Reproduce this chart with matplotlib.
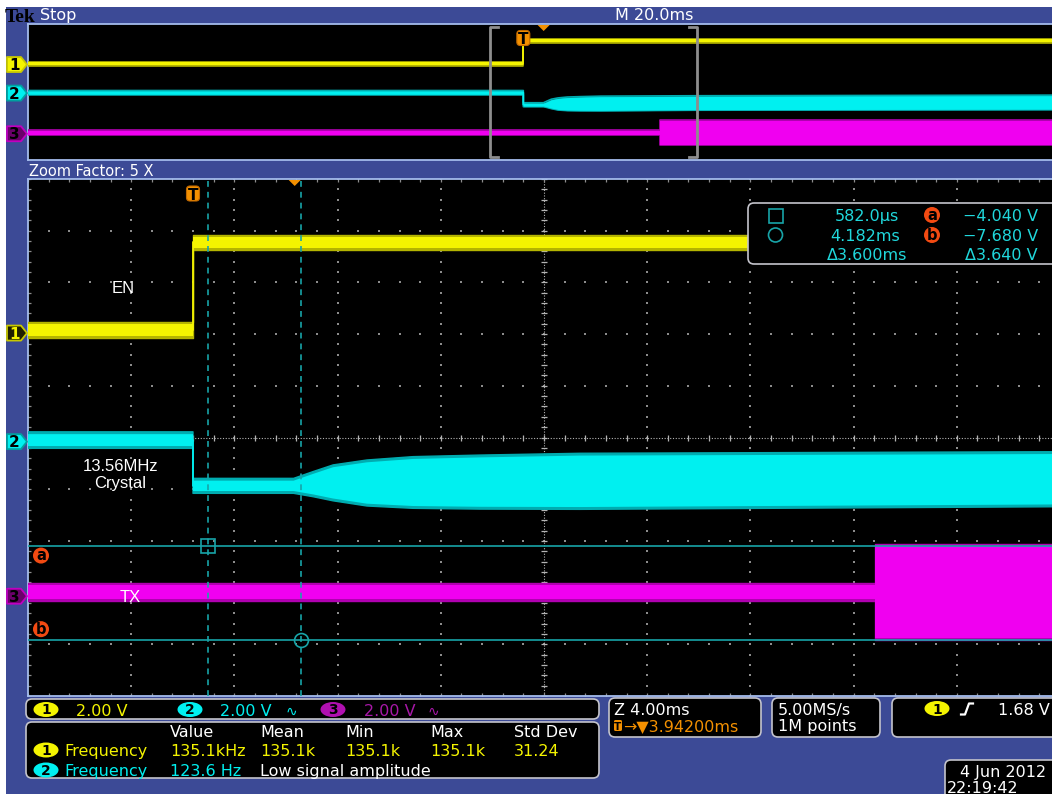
import numpy as np
import matplotlib.pyplot as plt
from matplotlib.patches import FancyBboxPatch, Polygon, Ellipse, Circle, Rectangle

W, H = 1052, 794
BLUE = '#3c4a96'
EDGE = '#a4bcec'
YEL, CYN, MAG = '#f4f400', '#00f0f0', '#f000f0'
ORG = '#f39000'
CUR = '#18a4a8'
GRID = '#8c8c8c'

plt.rcParams['font.family'] = ['DejaVu Sans']

# scope settings
volts_per_div = 2.0
ch_pos = {1: 2.02, 2: -0.08, 3: -3.07}   # channel ground markers, divisions
main_ms_div = 4.0
over_ms_div = 20.0
main_t0 = -6.395     # ms at left edge of zoom window
over_t0 = -95.99     # ms at left edge of full record
trig_pos_ms = 3.942
cur_t = [0.582, 4.182]
cur_v = [-4.040, -7.680]

# traces: time (ms), band bottom / top (V)
en_t = [-96.0, 0.0, 0.0, 104.0]
en_lo = [-0.20, -0.20, 3.22, 3.22]
en_hi = [0.44, 0.44, 3.80, 3.80]

xtal_t = [-96.0, 0.0, 0.0, 3.9, 4.65, 5.43, 6.74, 8.53, 11.1, 15.0, 33.3, 104.0]
xtal_lo = [-0.26, -0.26, -2.00, -2.00, -2.13, -2.29, -2.49, -2.58, -2.61, -2.62, -2.52, -2.45]
xtal_hi = [0.38, 0.38, -1.42, -1.42, -1.16, -0.90, -0.71, -0.58, -0.52, -0.45, -0.39, -0.30]

tx_t = [-96.0, 26.45, 26.45, 104.0]
tx_lo = [-0.19, -0.19, -1.69, -1.69]
tx_hi = [0.52, 0.52, 2.02, 2.02]

# measurement table
meas_cols = ['Value', 'Mean', 'Min', 'Max', 'Std Dev']
meas_ch1 = ['135.1kHz', '135.1k', '135.1k', '135.1k', '31.24']
meas_ch2 = ['123.6 Hz', 'Low signal amplitude']
cursor_rows = [('582.0\u00b5s', 'a', '\u22124.040 V'),
               ('4.182ms', 'b', '\u22127.680 V'),
               ('\u03943.600ms', '', '\u03943.640 V')]

fig = plt.figure(figsize=(W / 100, H / 100), dpi=100, facecolor=BLUE)


def px_axes(x0, y0, x1, y1):
    ax = fig.add_axes([x0 / W, 1 - y1 / H, (x1 - x0) / W, (y1 - y0) / H])
    ax.set_facecolor('black')
    ax.set_xticks([])
    ax.set_yticks([])
    for s in ax.spines.values():
        s.set_color(EDGE)
        s.set_linewidth(1.3)
    ax.set_ylim(-5, 5)
    return ax


over = px_axes(28, 24, 1060, 160)
over.set_xlim(over_t0, over_t0 + 10 * over_ms_div)
main = px_axes(28, 179, 1060, 696)
main.set_xlim(main_t0, main_t0 + 10 * main_ms_div)


def trace(ax, t, lo, hi, ch, color, edge, lw, inset):
    lo_d = ch_pos[ch] + np.array(lo) / volts_per_div
    hi_d = ch_pos[ch] + np.array(hi) / volts_per_div
    # noisy fringe in a darker shade, bright core inside it
    ax.fill_between(t, lo_d, hi_d, color=edge, lw=0, zorder=3)
    ax.plot(t, lo_d, color=edge, lw=lw, zorder=3)
    ax.plot(t, hi_d, color=edge, lw=lw, zorder=3)
    ax.fill_between(t, lo_d + inset, hi_d - inset, color=color, lw=0, zorder=3)
    ax.plot(t, (lo_d + hi_d) / 2, color=color, lw=1.3, zorder=3)


for ax, lw, inset in [(over, 1.2, 0.04), (main, 1.0, 0.045)]:
    trace(ax, en_t, en_lo, en_hi, 1, YEL, '#b4b400', lw, inset)
    trace(ax, xtal_t, xtal_lo, xtal_hi, 2, CYN, '#00acb0', lw, inset)
    trace(ax, tx_t, tx_lo, tx_hi, 3, MAG, '#b000b0', lw, inset)

# graticule of the zoom window
xs = main_t0 + main_ms_div / 5 * np.arange(51)
ys = -5 + 0.2 * np.arange(51)
for k in range(1, 10):
    if k == 5:
        continue
    main.plot(np.full(51, main_t0 + k * main_ms_div), ys, ls='none', marker='s',
              ms=1.5, mew=0, color=GRID, zorder=2)
    main.plot(xs, np.full(51, -5.0 + k), ls='none', marker='s',
              ms=1.5, mew=0, color=GRID, zorder=2)
xc = main_t0 + 5 * main_ms_div
main.axhline(0, color='#b4b4b4', lw=0.8, ls=(0, (1, 1.5)), zorder=2)
main.axvline(xc, color='#b4b4b4', lw=0.8, ls=(0, (1, 1.5)), zorder=2)
main.plot(xs, np.zeros(51), ls='none', marker='|', ms=5, mew=0.9, color='#b4b4b4', zorder=2)
main.plot(np.full(51, xc), ys, ls='none', marker='_', ms=5, mew=0.9, color='#b4b4b4', zorder=2)
for yy in (-5, 5):
    main.plot(xs, np.full(51, yy), ls='none', marker='|', ms=5, mew=0.9, color=GRID, zorder=2)
main.plot(np.full(51, main_t0), ys, ls='none', marker='_', ms=5, mew=0.9, color=GRID, zorder=2)

# cursors (on channel 2)
cur_d = [ch_pos[2] + v / volts_per_div for v in cur_v]
for t in cur_t:
    main.axvline(t, color=CUR, lw=1.2, ls=(0, (3.5, 3)), zorder=4)
for d in cur_d:
    main.axhline(d, color=CUR, lw=1.2, zorder=4)
main.plot(cur_t[0], cur_d[0], marker='s', ms=10, mfc='none', mec=CUR, mew=1.2, zorder=5)
main.plot(cur_t[1], cur_d[1], marker='o', ms=10, mfc='none', mec=CUR, mew=1.2, zorder=5)

# zoom bracket in the full-record view
bx0, bx1 = main_t0, main_t0 + 10 * main_ms_div
over.plot([bx0 + 1.4, bx0, bx0, bx0 + 1.4], [4.78, 4.78, -4.78, -4.78], color='#8e8e8e', lw=2, zorder=4)
over.plot([bx1 - 1.4, bx1, bx1, bx1 - 1.4], [4.78, 4.78, -4.78, -4.78], color='#8e8e8e', lw=2, zorder=4)

# overlay in pixel coordinates
ov = fig.add_axes([0, 0, 1, 1], zorder=10)
ov.set_xlim(0, W)
ov.set_ylim(H, 0)
ov.axis('off')


def to_px(ax, t, d):
    x, y = ax.transData.transform((t, d))
    return x, H - y


ov.add_patch(Rectangle((0, 0), W, 7, fc='white', ec='none'))
ov.add_patch(Rectangle((0, 0), 6, H, fc='white', ec='none'))

FS = 11.5
ov.text(5, 21.5, 'Tek', color='black', fontsize=14, fontweight='bold',
        family='Liberation Serif', va='baseline')
ov.text(40, 20, 'Stop', color='white', fontsize=FS, va='baseline')
ov.text(615, 20, 'M 20.0ms', color='white', fontsize=FS, va='baseline')
ov.text(29, 176, 'Zoom Factor: 5 X', color='white', fontsize=10.5, va='baseline')

# trigger markers
for ax, dy in [(over, 14.5), (main, 15)]:
    x, ytop = to_px(ax, 0, 5)
    ov.add_patch(FancyBboxPatch((x - 6.5, ytop + dy - 8), 13, 15,
                                boxstyle='round,pad=0,rounding_size=3.5', fc=ORG, ec='#c06800', lw=0.8))
    ov.text(x, ytop + dy + 5.5, 'T', color='black', fontsize=11, fontweight='bold',
            ha='center', va='baseline')
    xt, _ = to_px(ax, trig_pos_ms, 5)
    ov.add_patch(Polygon([(xt - 6, ytop + 1), (xt + 6, ytop + 1), (xt, ytop + 7)], fc=ORG, ec='none'))


def ch_marker(y, num, fc, ec, tc):
    pts = [(7, y - 7.5), (21, y - 7.5), (27, y), (21, y + 7.5), (7, y + 7.5)]
    ov.add_patch(Polygon(pts, closed=True, fc=fc, ec=ec, lw=1.3, joinstyle='round'))
    ov.text(14.5, y + 5.5, num, ha='center', va='baseline', color=tc, fontsize=11, fontweight='bold')


for ax in (over, main):
    _, y1 = to_px(ax, 0, ch_pos[1])
    _, y2 = to_px(ax, 0, ch_pos[2])
    _, y3 = to_px(ax, 0, ch_pos[3])
    ch_marker(y1, '1', YEL if ax is over else '#202000', '#c8c800', 'black' if ax is over else YEL)
    ch_marker(y2, '2', CYN, '#00a0a0', 'black')
    ch_marker(y3, '3', '#6a006a', '#c000c0', 'black')


def abadge(x, y, s):
    ov.add_patch(Circle((x, y), 8, fc='#f24a12', ec='none'))
    ov.text(x, y + 4.5, s, ha='center', va='baseline', color='black', fontsize=10.5, fontweight='bold')


_, ya = to_px(main, 0, cur_d[0])
_, yb = to_px(main, 0, cur_d[1])
abadge(41, ya + 9.5, 'a')
abadge(41, yb - 11, 'b')

# trace labels
for x, y, s in [(123, 293, 'EN'), (120.5, 471, '13.56MHz'), (120.5, 488, 'Crystal'), (130, 602, 'TX')]:
    ov.text(x, y, s, color='white', fontsize=12, family='Liberation Sans', ha='center', va='baseline')


def panel(x0, y0, x1, y1, r=6):
    ov.add_patch(FancyBboxPatch((x0, y0), x1 - x0, y1 - y0,
                                boxstyle=f'round,pad=0,rounding_size={r}',
                                fc='black', ec='#c4c4cc', lw=1.2))


# cursor readout
panel(748, 203, 1075, 264)
ov.add_patch(Rectangle((768.5, 208.5), 14, 14, fc='none', ec=CUR, lw=1.2))
ov.add_patch(Circle((775.5, 235), 7, fc='none', ec=CUR, lw=1.2))
for (tv, lab, vv), yb_, rx in zip(cursor_rows, [221, 241, 260], [899, 900, 907]):
    ov.text(rx, yb_, tv, color='#20d8dc', fontsize=FS, ha='right', va='baseline')
    ov.text(1038, yb_, vv, color='#20d8dc', fontsize=FS, ha='right', va='baseline')
    if lab:
        abadge(932, yb_ - 6, lab)

# bottom panels
panel(26, 699, 599, 719)
panel(26, 722, 599, 778)
panel(609, 698, 761, 737)
panel(772, 698, 880, 737)
panel(892, 698, 1075, 737)
panel(945, 760, 1075, 800)


def badge(x, y, s, fc):
    ov.add_patch(Ellipse((x, y), 25, 15, fc=fc, ec='none'))
    ov.text(x, y + 5, s, ha='center', va='baseline', color='black', fontsize=10, fontweight='bold')


badge(46, 709.5, '1', YEL)
ov.text(76, 716, '2.00 V', color=YEL, fontsize=FS, va='baseline')
badge(190, 709.5, '2', CYN)
ov.text(220, 716, '2.00 V', color=CYN, fontsize=FS, va='baseline')
ov.text(286, 716, '\u223f', color=CYN, fontsize=10, va='baseline')
badge(333, 709.5, '3', '#b010b0')
ov.text(364, 716, '2.00 V', color='#a818a8', fontsize=FS, va='baseline')
ov.text(428, 716, '\u223f', color='#a818a8', fontsize=10, va='baseline')

col_x = [170, 260, 345, 430, 514]
for x, s in zip(col_x, meas_cols):
    ov.text(x, 737, s, color='white', fontsize=FS, va='baseline')
badge(46, 750, '1', YEL)
ov.text(64, 756, 'Frequency', color=YEL, fontsize=FS, va='baseline')
for x, s in zip(col_x, meas_ch1):
    ov.text(x, 756, s, color=YEL, fontsize=FS, va='baseline')
badge(46, 770, '2', CYN)
ov.text(64, 776, 'Frequency', color=CYN, fontsize=FS, va='baseline')
ov.text(col_x[0], 776, meas_ch2[0], color=CYN, fontsize=FS, va='baseline')
ov.text(col_x[1], 776, meas_ch2[1], color='white', fontsize=FS, va='baseline')

ov.text(614, 715, 'Z 4.00ms', color='white', fontsize=FS, va='baseline')
ov.add_patch(FancyBboxPatch((614, 720), 8, 11, boxstyle='round,pad=0,rounding_size=1.5', fc=ORG, ec='none'))
ov.text(618, 730, 'T', color='black', fontsize=7.5, fontweight='bold', ha='center', va='baseline')
ov.text(623, 731, '\u2192\u25bc' + f'{trig_pos_ms:.5f}ms', color=ORG, fontsize=FS, va='baseline')
ov.text(778, 715, '5.00MS/s', color='white', fontsize=FS, va='baseline')
ov.text(778, 731, '1M points', color='white', fontsize=FS, va='baseline')
badge(937, 708.5, '1', YEL)
ov.plot([961, 965, 969, 973], [714.5, 714.5, 703.5, 703.5], color='white', lw=1.6)
ov.text(998, 715, '1.68 V', color='white', fontsize=FS, va='baseline')
ov.text(960, 777, '4 Jun 2012', color='white', fontsize=FS, va='baseline')
ov.text(947, 793, '22:19:42', color='white', fontsize=FS, va='baseline')

fig.savefig('out.png', dpi=100, facecolor=fig.get_facecolor())
